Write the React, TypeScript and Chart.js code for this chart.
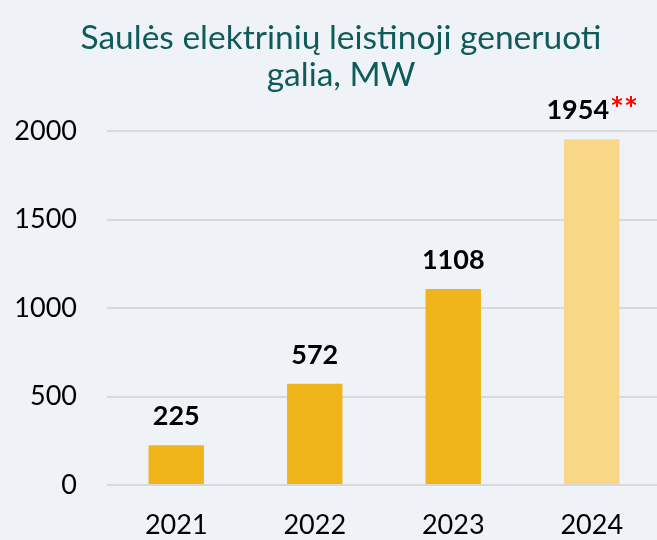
import React, { useEffect, useRef } from 'react';
import { Chart, registerables } from 'chart.js';

Chart.register(...registerables);

const TITLE_LINES = ['Saulės elektrinių leistinoji generuoti', 'galia, MW'];
const YEARS = ['2021', '2022', '2023', '2024'];
const VALUES = [225, 572, 1108, 1954];
const LABEL_SUFFIX = ['', '', '', '**'];
const BAR_COLORS = ['#F0B51B', '#F0B51B', '#F0B51B', '#F8D886'];
const Y_MIN = 0;
const Y_MAX = 2000;
const Y_STEP = 500;

const BG = '#EFF3F7';
const FONT = 'Lato, "Open Sans", sans-serif';

const bgTitlePlugin = {
  id: 'bgTitle',
  beforeDraw(chart: any) {
    const ctx = chart.ctx;
    ctx.save();
    ctx.fillStyle = BG;
    ctx.fillRect(0, 0, chart.width, chart.height);
    ctx.fillStyle = '#0F5A5A';
    ctx.font = `400 33.5px ${FONT}`;
    ctx.textAlign = 'center';
    ctx.textBaseline = 'middle';
    TITLE_LINES.forEach((line, i) => {
      ctx.fillText(line, 341, 38 + i * 37);
    });
    ctx.restore();
  },
};

const valueLabelPlugin = {
  id: 'valueLabels',
  afterDatasetsDraw(chart: any) {
    const ctx = chart.ctx;
    const meta = chart.getDatasetMeta(0);
    ctx.save();
    ctx.textBaseline = 'alphabetic';
    ctx.textAlign = 'left';
    const numFont = `700 27px ${FONT}`;
    const sufFont = `700 33px ${FONT}`;
    meta.data.forEach((bar: any, i: number) => {
      const num = String(VALUES[i]);
      const suf = LABEL_SUFFIX[i];
      ctx.font = numFont;
      const wNum = ctx.measureText(num).width;
      ctx.font = sufFont;
      const wSuf = suf ? ctx.measureText(suf).width : 0;
      const total = wNum + wSuf;
      const x0 = bar.x - total / 2;
      const y = bar.y - 20;
      ctx.font = numFont;
      ctx.fillStyle = '#000000';
      ctx.fillText(num, x0, y);
      if (suf) {
        ctx.font = sufFont;
        ctx.fillStyle = '#FF0000';
        ctx.fillText(suf, x0 + wNum + 1, y + 2);
      }
    });
    ctx.restore();
  },
};

export default function App() {
  const ref = useRef<HTMLCanvasElement | null>(null);

  useEffect(() => {
    document.body.style.margin = '0';
    document.body.style.background = BG;
    const canvas = ref.current;
    if (!canvas) return;
    const chart = new Chart(canvas, {
      type: 'bar',
      data: {
        labels: YEARS,
        datasets: [
          {
            data: VALUES,
            backgroundColor: BAR_COLORS,
            borderWidth: 0,
            barPercentage: 0.4,
            categoryPercentage: 1,
          },
        ],
      },
      options: {
        responsive: false,
        animation: false,
        devicePixelRatio: 1,
        layout: { padding: { top: 131, left: 0, right: 0, bottom: 0 } },
        plugins: {
          legend: { display: false },
          title: { display: false },
          tooltip: { enabled: false },
        },
        scales: {
          x: {
            grid: { display: false, drawTicks: false },
            border: { display: false },
            ticks: {
              color: '#000000',
              font: { family: FONT, size: 27 },
              padding: 24,
            },
            afterFit(scale: any) {
              scale.height = 55;
            },
          },
          y: {
            min: Y_MIN,
            max: Y_MAX,
            grid: { color: '#D9D9D9', lineWidth: 2, drawTicks: false },
            border: { display: false },
            ticks: {
              stepSize: Y_STEP,
              color: '#000000',
              font: { family: FONT, size: 27 },
              padding: 30,
              callback: (v: any) => String(v),
            },
            afterFit(scale: any) {
              scale.width = 107;
            },
          },
        },
      },
      plugins: [bgTitlePlugin, valueLabelPlugin],
    } as any);
    return () => chart.destroy();
  }, []);

  return (
    <div style={{ width: 657, height: 540, overflow: 'hidden', background: BG }}>
      <canvas ref={ref} width={661} height={540} style={{ display: 'block' }} />
    </div>
  );
}
